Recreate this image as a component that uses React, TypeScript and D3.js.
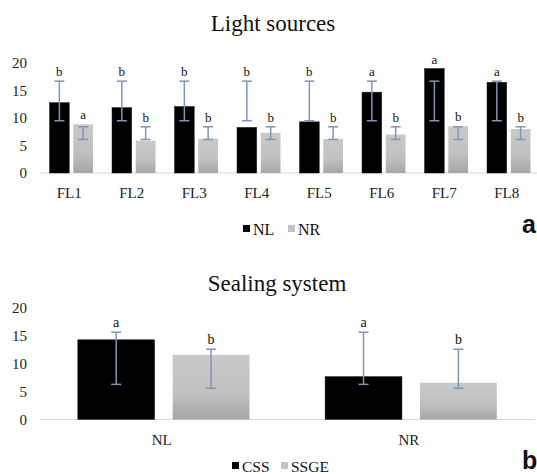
import React from 'react';
import * as d3 from 'd3';

// panel a: light sources
const lightCats = ['FL1', 'FL2', 'FL3', 'FL4', 'FL5', 'FL6', 'FL7', 'FL8'];
const lightSeries = ['NL', 'NR'];
const nlValues = [12.8, 11.9, 12.1, 8.3, 9.3, 14.7, 19.0, 16.5];
const nrValues = [8.85, 5.9, 6.2, 7.3, 6.2, 7.0, 8.5, 8.0];
const nlErrHigh = [16.7, 16.7, 16.7, 16.7, 16.7, 16.7, 16.7, 16.7];
const nlErrLow = [9.5, 9.5, 9.5, 9.5, 9.5, 9.5, 9.5, 9.5];
const nrErrHigh = [8.4, 8.4, 8.4, 8.4, 8.4, 8.4, 8.4, 8.4];
const nrErrLow = [6.1, 6.1, 6.1, 6.1, 6.1, 6.1, 6.1, 6.1];
const nlLetters = ['b', 'b', 'b', 'b', 'b', 'a', 'a', 'a'];
const nrLetters = ['a', 'b', 'b', 'b', 'b', 'b', 'b', 'b'];

// panel b: sealing system
const sealCats = ['NL', 'NR'];
const sealSeries = ['CSS', 'SSGE'];
const cssValues = [14.3, 7.7];
const ssgeValues = [11.6, 6.6];
const cssErrHigh = [15.65, 15.65];
const cssErrLow = [6.3, 6.3];
const ssgeErrHigh = [12.6, 12.6];
const ssgeErrLow = [5.6, 5.6];
const cssLetters = ['a', 'a'];
const ssgeLetters = ['b', 'b'];

const yTicks = [0, 5, 10, 15, 20];

const serif = 'Liberation Serif, Tinos, Times New Roman, Times, DejaVu Serif, serif';
const errColor = '#8196b1';

type Panel = {
  title: string;
  titleX: number;
  titleY: number;
  cats: string[];
  series: string[];
  values: number[][];
  errHigh: number[][];
  errLow: number[][];
  letters: string[][];
  xRange: [number, number];
  innerPad: number;
  innerInner: number;
  yRange: [number, number];
  axisEnd: number;
  catY: number;
  letterSize: number;
  legendY: number;
  legendX: number[];
  legendSize: number;
  tag: string;
  tagY: number;
};

const panels: Panel[] = [
  {
    title: 'Light sources', titleX: 273, titleY: 31,
    cats: lightCats, series: lightSeries,
    values: [nlValues, nrValues],
    errHigh: [nlErrHigh, nrErrHigh],
    errLow: [nlErrLow, nrErrLow],
    letters: [nlLetters, nrLetters],
    xRange: [40, 540], innerPad: 9.5, innerInner: 0.17,
    yRange: [173, 63], axisEnd: 537, catY: 198, letterSize: 13,
    legendY: 235, legendX: [243, 288], legendSize: 16,
    tag: 'a', tagY: 233,
  },
  {
    title: 'Sealing system', titleX: 277, titleY: 291,
    cats: sealCats, series: sealSeries,
    values: [cssValues, ssgeValues],
    errHigh: [cssErrHigh, ssgeErrHigh],
    errLow: [cssErrLow, ssgeErrLow],
    letters: [cssLetters, ssgeLetters],
    xRange: [40, 534.6], innerPad: 37.8, innerInner: 0.19,
    yRange: [419.5, 308], axisEnd: 535, catY: 445, letterSize: 14,
    legendY: 472, legendX: [232, 281], legendSize: 15.5,
    tag: 'b', tagY: 469,
  },
];

const fills = ['#000000', 'url(#grayGrad)'];
const legendFills = ['#000000', '#c4c4c4'];

function ChartPanel({ p }: { p: Panel }) {
  const x = d3.scaleBand<string>().domain(p.cats).range(p.xRange);
  const xs = d3.scaleBand<string>()
    .domain(p.series)
    .range([p.innerPad, x.step() - p.innerPad])
    .paddingInner(p.innerInner);
  const y = d3.scaleLinear().domain([0, 20]).range(p.yRange);
  const bw = xs.bandwidth();
  const txt = { fontFamily: serif };

  return (
    <g>
      <text x={p.titleX} y={p.titleY} textAnchor="middle" style={txt} fontSize={23} fill="#111">
        {p.title}
      </text>
      {yTicks.map(t => (
        <text key={t} x={27} y={y(t) + 5} textAnchor="end" style={txt} fontSize={15} fill="#222">
          {t}
        </text>
      ))}
      <line x1={p.xRange[0]} x2={p.axisEnd} y1={y(0)} y2={y(0)} stroke="#d9d9d9" strokeWidth={1} />
      {p.cats.map((c, i) => (
        <g key={c} transform={`translate(${x(c)},0)`}>
          {p.series.map((s, j) => {
            const v = p.values[j][i];
            const hi = p.errHigh[j][i];
            const lo = p.errLow[j][i];
            const cx = (xs(s) as number) + bw / 2;
            const top = Math.min(y(v), y(hi));
            return (
              <g key={s}>
                <rect x={xs(s)} y={y(v)} width={bw} height={y(0) - y(v)} fill={fills[j]}
                  stroke={j === 0 ? '#222' : 'none'} strokeWidth={0.5} />
                <line x1={cx} x2={cx} y1={y(hi)} y2={y(lo)} stroke={errColor} strokeWidth={1.5} />
                <line x1={cx - 5} x2={cx + 5} y1={y(hi)} y2={y(hi)} stroke={errColor} strokeWidth={1.5} />
                <line x1={cx - 5} x2={cx + 5} y1={y(lo)} y2={y(lo)} stroke={errColor} strokeWidth={1.5} />
                <text x={cx} y={top - 5} textAnchor="middle" style={txt} fontSize={p.letterSize} fill="#111">
                  {p.letters[j][i]}
                </text>
              </g>
            );
          })}
          <text x={x.step() / 2 - 2} y={p.catY} textAnchor="middle" style={txt} fontSize={15} fill="#222">
            {c}
          </text>
        </g>
      ))}
      {p.series.map((s, j) => (
        <g key={s}>
          <rect x={p.legendX[j]} y={p.legendY - 10} width={7} height={7} fill={legendFills[j]} />
          <text x={p.legendX[j] + 10} y={p.legendY} style={txt} fontSize={p.legendSize} fill="#111">
            {s}
          </text>
        </g>
      ))}
      <text x={522} y={p.tagY} style={{ fontFamily: 'Liberation Sans, Arial, sans-serif' }} fontWeight="bold" fontSize={25} fill="#111">
        {p.tag}
      </text>
    </g>
  );
}

export default function App() {
  return (
    <svg width={537} height={474} style={{ position: 'absolute', left: 0, top: 0, background: '#fff' }}>
      <defs>
        <linearGradient id="grayGrad" x1="0" y1="0" x2="0" y2="1">
          <stop offset="0%" stopColor="#c9c9c9" />
          <stop offset="60%" stopColor="#c0c0c0" />
          <stop offset="100%" stopColor="#a6a6a6" />
        </linearGradient>
      </defs>
      {panels.map(p => <ChartPanel key={p.tag} p={p} />)}
    </svg>
  );
}
